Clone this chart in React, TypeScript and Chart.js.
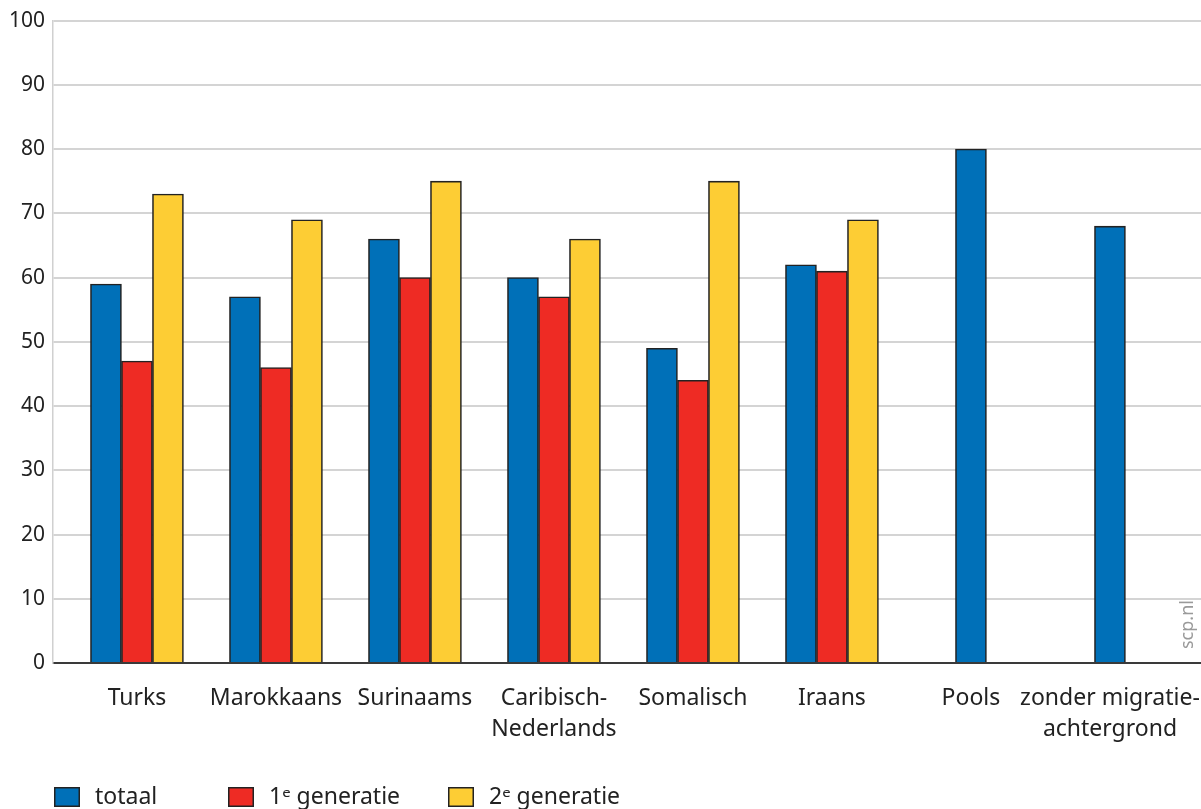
import React, { useEffect, useRef } from 'react';
import { Chart, registerables } from 'chart.js';

Chart.register(...registerables);

const CATEGORIES: (string | string[])[] = [
  'Turks',
  'Marokkaans',
  'Surinaams',
  ['Caribisch-', 'Nederlands'],
  'Somalisch',
  'Iraans',
  'Pools',
  ['zonder migratie-', 'achtergrond'],
];
const TOTAAL = [59, 57, 66, 60, 49, 62, 80, 68];
const GEN1 = [47, 46, 60, 57, 44, 61, null, null];
const GEN2 = [73, 69, 75, 66, 75, 69, null, null];
const SERIES_NAMES = ['totaal', '1ᵉ generatie', '2ᵉ generatie'];
const SERIES_COLORS = ['#0070B8', '#EE2B24', '#FDCD34'];
const Y_MIN = 0;
const Y_MAX = 100;
const Y_STEP = 10;

const FONT = '"Noto Sans", "DejaVu Sans", sans-serif';

// layout constants (not data)
const X_START = -0.604;
const X_RANGE = 8.259;
const LEGEND_X = [54, 228, 448];

const legendPlugin = {
  id: 'customLegend',
  afterDraw(chart: any) {
    const ctx = chart.ctx as CanvasRenderingContext2D;
    chart.data.datasets.forEach((ds: any, i: number) => {
      const x = LEGEND_X[i];
      const y = 787;
      ctx.save();
      ctx.fillStyle = ds.backgroundColor;
      ctx.fillRect(x, y, 26, 20);
      ctx.strokeStyle = '#222';
      ctx.lineWidth = 1.5;
      ctx.strokeRect(x + 0.75, y + 0.75, 24.5, 18.5);
      ctx.fillStyle = '#222';
      ctx.font = `23px ${FONT}`;
      ctx.textBaseline = 'middle';
      ctx.textAlign = 'left';
      ctx.fillText(ds.label, x + 41, y + 10);
      ctx.restore();
    });
  },
};

const watermarkPlugin = {
  id: 'watermark',
  afterDraw(chart: any) {
    const ctx = chart.ctx as CanvasRenderingContext2D;
    ctx.save();
    ctx.translate(1188, 649);
    ctx.rotate(-Math.PI / 2);
    ctx.font = `18px ${FONT}`;
    ctx.fillStyle = '#9a9a9a';
    ctx.textAlign = 'left';
    ctx.textBaseline = 'middle';
    ctx.fillText('scp.nl', 0, 0);
    ctx.restore();
  },
};

export default function App() {
  const canvasRef = useRef<HTMLCanvasElement | null>(null);

  useEffect(() => {
    if (!canvasRef.current) return;
    const chart = new Chart(canvasRef.current, {
      type: 'bar',
      data: {
        labels: CATEGORIES as any,
        datasets: [
          { label: SERIES_NAMES[0], data: TOTAAL, backgroundColor: SERIES_COLORS[0] },
          { label: SERIES_NAMES[1], data: GEN1 as any, backgroundColor: SERIES_COLORS[1] },
          { label: SERIES_NAMES[2], data: GEN2 as any, backgroundColor: SERIES_COLORS[2] },
        ],
      },
      options: {
        animation: false,
        responsive: true,
        maintainAspectRatio: false,
        layout: { padding: { top: 20, right: 0, bottom: 0, left: 0 } },
        plugins: {
          legend: { display: false },
          tooltip: { enabled: false },
        },
        datasets: {
          bar: {
            barThickness: 31,
            skipNull: true,
            borderWidth: 1.6,
            borderColor: '#222',
          },
        },
        scales: {
          x: {
            grid: { display: true, color: 'transparent', drawTicks: false },
            border: { display: true, color: '#3a3a3a', width: 2 },
            ticks: {
              color: '#222',
              font: { family: FONT, size: 23, lineHeight: 1.35 },
              padding: 20,
              maxRotation: 0,
              minRotation: 0,
              autoSkip: false,
            },
            afterBuildTicks: (scale: any) => {
              scale._startValue = X_START;
              scale._valueRange = X_RANGE;
            },
            afterFit: (scale: any) => {
              scale.height = 146;
              scale.paddingLeft = 0;
              scale.paddingRight = 0;
            },
          },
          y: {
            min: Y_MIN,
            max: Y_MAX,
            ticks: {
              stepSize: Y_STEP,
              color: '#222',
              font: { family: FONT, size: 21 },
              padding: 8,
            },
            grid: {
              color: (ctx: any) => (ctx.tick && ctx.tick.value === 0 ? 'transparent' : '#d4d4d4'),
              lineWidth: 2,
              drawTicks: false,
            },
            border: { display: true, color: '#d0d0d0', width: 1.5 },
            afterFit: (scale: any) => {
              scale.width = 53;
            },
          },
        },
      },
      plugins: [legendPlugin, watermarkPlugin],
    });
    return () => chart.destroy();
  }, []);

  return (
    <div style={{ position: 'absolute', left: 0, top: 0, width: 1201, height: 809, background: '#fff' }}>
      <canvas ref={canvasRef} />
    </div>
  );
}
